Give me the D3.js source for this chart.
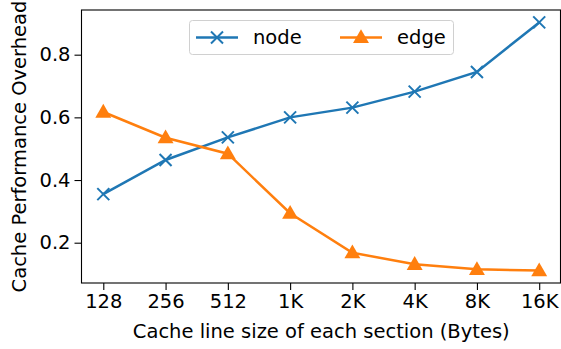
<!DOCTYPE html>
<html><head><meta charset="utf-8">
<script src="https://cdn.jsdelivr.net/npm/d3@7"></script>
<style>body{margin:0;background:#fff}svg{display:block}text{font-family:"DejaVu Sans",sans-serif;fill:#000}</style>
</head><body>
<script>
const categories = ["128","256","512","1K","2K","4K","8K","16K"];
const nodeValues = [0.355,0.464,0.536,0.600,0.631,0.682,0.745,0.903];
const edgeValues = [0.617,0.535,0.484,0.294,0.168,0.131,0.115,0.111];
const yTicks = [0.2,0.4,0.6,0.8];
const seriesNames = ["node","edge"];
const colors = ["#1f77b4","#ff7f0e"];
const xLabel = "Cache line size of each section (Bytes)";
const yLabel = "Cache Performance Overhead";

const W=561,H=349;
const L=81.5,R=561,T=10,B=283;
const FS=19.5;
const svg=d3.select("body").append("svg").attr("width",W).attr("height",H);
const x=d3.scaleLinear().domain([-0.35,7.35]).range([L,R]);
const y=d3.scaleLinear().domain([0.0714,0.9426]).range([B,T]);

const xAxis=svg.append("g").attr("transform",`translate(0,${B})`)
  .call(d3.axisBottom(x).tickValues(d3.range(categories.length)).tickFormat(i=>categories[i]).tickSize(7).tickPadding(4));
const yAxis=svg.append("g").attr("transform",`translate(${L},0)`)
  .call(d3.axisLeft(y).tickValues(yTicks).tickFormat(d3.format(".1f")).tickSize(7).tickPadding(4));
[xAxis,yAxis].forEach(g=>{g.select(".domain").remove();g.selectAll("line").attr("stroke","#000").attr("stroke-width",1.1);
  g.selectAll("text").attr("font-size",FS).attr("font-family","DejaVu Sans").attr("fill","#000");});
svg.append("rect").attr("x",L).attr("y",T).attr("width",R-L-0.5).attr("height",B-T)
  .attr("fill","none").attr("stroke","#000").attr("stroke-width",1.1);

const data=[nodeValues,edgeValues];
const line=d3.line().x((d,i)=>x(i)).y(d=>y(d));
const tri=d3.symbol().type(d3.symbolTriangle).size(110);
function marker(g,k,cx,cy){
  if(k===0){
    const s=6;
    g.append("path").attr("d",`M${cx-s},${cy-s}L${cx+s},${cy+s}M${cx-s},${cy+s}L${cx+s},${cy-s}`)
      .attr("stroke",colors[0]).attr("stroke-width",2).attr("fill","none");
  } else {
    g.append("path").attr("d",tri()).attr("transform",`translate(${cx},${cy+1})`).attr("fill",colors[1]);
  }
}
data.forEach((vals,k)=>{
  const g=svg.append("g");
  g.append("path").datum(vals).attr("d",line).attr("fill","none").attr("stroke",colors[k]).attr("stroke-width",2.5);
  vals.forEach((v,i)=>marker(g,k,x(i),y(v)));
});

const lg=svg.append("g");
lg.append("rect").attr("x",189.5).attr("y",20.5).attr("width",264).attr("height",34).attr("rx",3)
  .attr("fill","#fff").attr("fill-opacity",0.8).attr("stroke","#d0d0d0").attr("stroke-width",1);
const lx=[196,340],tx=[253,397];
seriesNames.forEach((n,k)=>{
  lg.append("line").attr("x1",lx[k]).attr("x2",lx[k]+42).attr("y1",37.5).attr("y2",37.5).attr("stroke",colors[k]).attr("stroke-width",2.5);
  marker(lg,k,lx[k]+21,37.5);
  lg.append("text").attr("x",tx[k]).attr("y",37.5).attr("dy","0.35em").attr("font-size",FS).text(n);
});

svg.append("text").attr("x",(L+R)/2).attr("y",338).attr("text-anchor","middle").attr("font-size",FS).text(xLabel);
svg.append("text").attr("transform",`translate(25.5,${(T+B)/2}) rotate(-90)`).attr("text-anchor","middle").attr("font-size",FS).text(yLabel);
</script>
</body></html>
